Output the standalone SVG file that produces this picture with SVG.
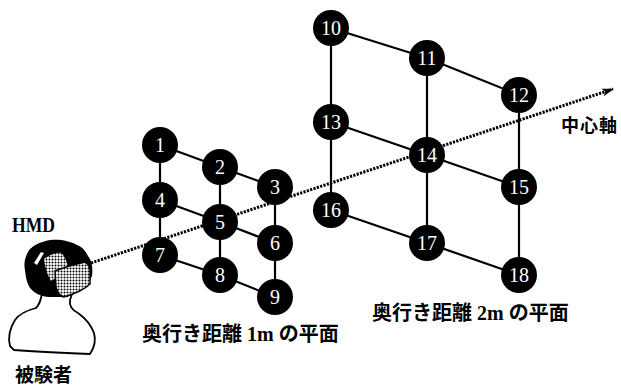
<svg xmlns="http://www.w3.org/2000/svg" width="621" height="388" viewBox="0 0 621 388">
  <style>
    .edge { stroke: #000; stroke-width: 2.2; fill: none; }
    .axis { stroke: #000; stroke-width: 3; stroke-dasharray: 2.2 1.3; fill: none; }
    .node circle { fill: #000; }
    .node text { font-family: "Liberation Serif", serif; font-size: 20px; fill: #fff; text-anchor: middle; }
    .lbl { font-family: "Liberation Serif", "Noto Sans CJK JP", serif; font-weight: bold; font-size: 20px; fill: #000; }
    .cjk { font-family: "Noto Sans CJK JP", sans-serif; font-weight: bold; fill: #000; }
  </style>
  <defs>
    <pattern id="stipple" width="3" height="3" patternUnits="userSpaceOnUse">
      <rect width="3" height="3" fill="#fff"/>
      <circle cx="1.5" cy="1.5" r="1" fill="#000"/>
    </pattern>
    <marker id="arrow" markerWidth="13" markerHeight="10" refX="11" refY="5" orient="auto" markerUnits="userSpaceOnUse">
      <path d="M0,1 L12,5 L0,9 L3,5 Z" fill="#000"/>
    </marker>
  </defs>
  <rect width="621" height="388" fill="#fff"/>

  <!-- grid connectors and central axis -->
  <g id="connectors">
    <!-- plane at 1 m -->
    <path class="edge" d="M160,145 L220,167 L275,187 M160,200 L220,222 L275,243 M160,255 L220,275 L275,297 M160,145 L160,255 M220,167 L220,275 M275,187 L275,297"/>
    <!-- plane at 2 m -->
    <path class="edge" d="M331,28 L427,58 L519,95 M331,122 L427,155 L519,187 M331,210 L427,243 L519,275 M331,28 L331,210 M427,58 L427,243 M519,95 L519,275"/>
    <!-- central axis -->
    <line id="axis" class="axis" x1="91" y1="263" x2="613" y2="89" marker-end="url(#arrow)"/>
  </g>

  <g id="n1" class="node"><circle cx="160" cy="145" r="18"/><text x="160" y="152">1</text></g>
  <g id="n2" class="node"><circle cx="220" cy="167" r="18"/><text x="220" y="174">2</text></g>
  <g id="n3" class="node"><circle cx="275" cy="187" r="18"/><text x="275" y="194">3</text></g>
  <g id="n4" class="node"><circle cx="160" cy="200" r="18"/><text x="160" y="207">4</text></g>
  <g id="n5" class="node"><circle cx="220" cy="222" r="18"/><text x="220" y="229">5</text></g>
  <g id="n6" class="node"><circle cx="275" cy="243" r="18"/><text x="275" y="250">6</text></g>
  <g id="n7" class="node"><circle cx="160" cy="255" r="18"/><text x="160" y="262">7</text></g>
  <g id="n8" class="node"><circle cx="220" cy="275" r="18"/><text x="220" y="282">8</text></g>
  <g id="n9" class="node"><circle cx="275" cy="297" r="18"/><text x="275" y="304">9</text></g>

  <g id="n10" class="node"><circle cx="331" cy="28" r="18"/><text x="331" y="35">10</text></g>
  <g id="n11" class="node"><circle cx="427" cy="58" r="18"/><text x="427" y="65">11</text></g>
  <g id="n12" class="node"><circle cx="519" cy="95" r="18"/><text x="519" y="102">12</text></g>
  <g id="n13" class="node"><circle cx="331" cy="122" r="18"/><text x="331" y="129">13</text></g>
  <g id="n14" class="node"><circle cx="427" cy="155" r="18"/><text x="427" y="162">14</text></g>
  <g id="n15" class="node"><circle cx="519" cy="187" r="18"/><text x="519" y="194">15</text></g>
  <g id="n16" class="node"><circle cx="331" cy="210" r="18"/><text x="331" y="217">16</text></g>
  <g id="n17" class="node"><circle cx="427" cy="243" r="18"/><text x="427" y="250">17</text></g>
  <g id="n18" class="node"><circle cx="519" cy="275" r="18"/><text x="519" y="282">18</text></g>

  <!-- subject wearing the head-mounted display -->
  <g id="subject">
    <path d="M42,293 C41,300 39,305 36,308 C28,310 20,313 15,320 C10,328 8,338 10,346 L14,350 C40,352 65,353 90,354 C94,348 96,340 94,333 C91,325 85,318 78,313 C72,310 69,306 70,300 L72,294" fill="#fff" stroke="#000" stroke-width="1.8" stroke-linejoin="round"/>
    <path d="M50,240 C40,242 31,246 28,252 C24,259 24,266 25,270 C26,280 28,287 33,291 C38,295 44,297 52,297 L67,297 C78,293 88,285 92,276 C93,268 92,261 88,256 C85,250 82,247 77,245 C70,241 60,239 50,240 Z" fill="#000"/>
    <path d="M44,259 C49,255 56,252 61,253 C65,256 67,262 68,268 C63,273 56,278 51,281 C48,276 45,268 44,259 Z" fill="url(#stipple)"/>
    <path d="M55,271 C65,267 76,264 85,262 C89,264 90,268 90,272 L90,284 C84,290 74,294 64,297 C60,296 57,292 56,287 Z" fill="url(#stipple)" stroke="#000" stroke-width="1.5"/>
    <path d="M34,263 L41,252 L44,253 L37,265 Z" fill="#fff"/>
  </g>

  <g id="labels">
    <text x="12" y="232" font-family="Liberation Serif, serif" font-weight="bold" font-size="20" textLength="43" lengthAdjust="spacingAndGlyphs">HMD</text>
    <text x="15" y="382" class="cjk" font-size="19">被験者</text>
    <text x="561" y="132" class="cjk" font-size="18" letter-spacing="1">中心軸</text>
    <text x="142" y="341" class="lbl">奥行き距離 1m の平面</text>
    <text x="372" y="320" class="lbl">奥行き距離 2m の平面</text>
  </g>
</svg>
